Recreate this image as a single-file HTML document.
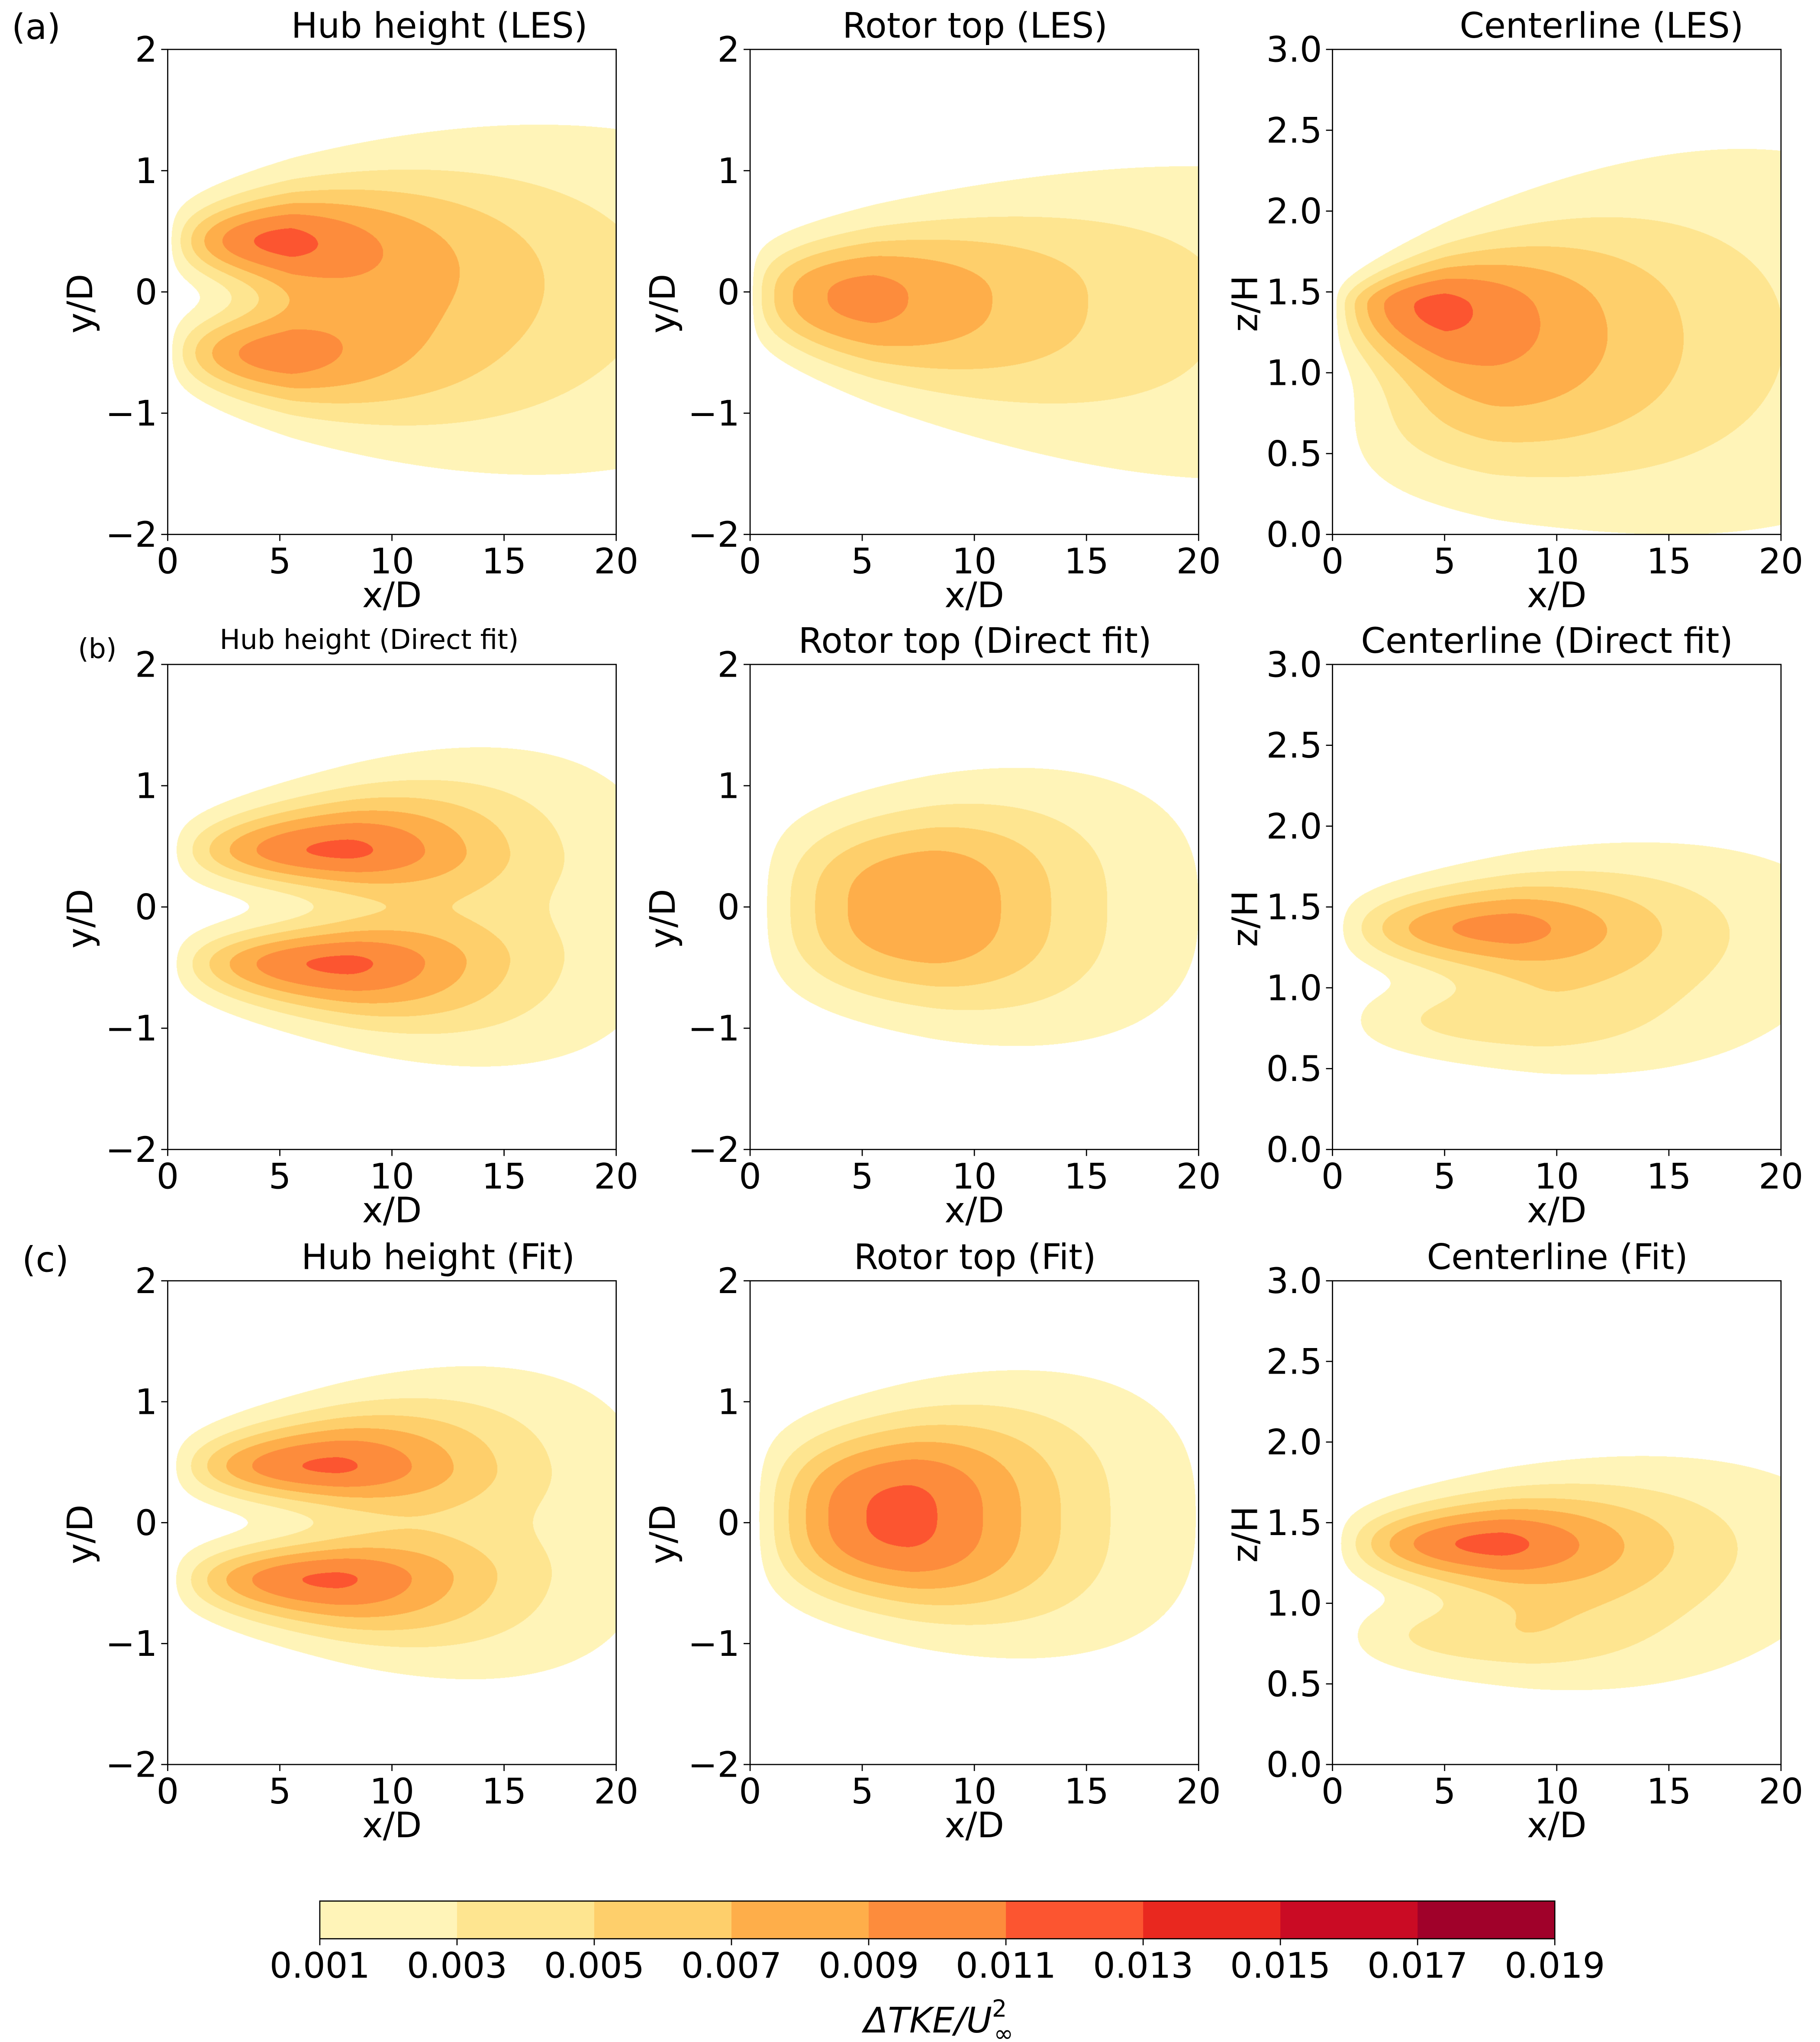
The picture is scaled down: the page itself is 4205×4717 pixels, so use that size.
<!DOCTYPE html>
<html><head><meta charset="utf-8">
<style>
html,body{margin:0;padding:0;background:#fff;}
#wrap{position:relative;width:4205px;height:4717px;overflow:hidden;}
canvas{position:absolute;}
svg{position:absolute;left:0;top:0;}
text{font-family:"DejaVu Sans","Liberation Sans",sans-serif;fill:#000;}
</style></head>
<body>
<div id="wrap">
<svg id="fig" width="4205" height="4717" viewBox="0 0 1400 1570.4" preserveAspectRatio="none"></svg>
</div>
<script>
// ---- data ----
const levels = [0.001,0.003,0.005,0.007,0.009,0.011,0.013,0.015,0.017,0.019];
const levelColors = ['#fff4b8','#fee590','#fecf6b','#feae4a','#fd8c3c','#fc5530','#e9281f','#ca0b24','#a0012a'];
const xTicks = [0,5,10,15,20];
const yTicksHub = [-2,-1,0,1,2];
const yTicksCenter = [0,0.5,1,1.5,2,2.5,3];
// lobe params: [amp, xPeak, kRise, Ltail, pTail, c0, c1, sUp0, sUp1, sDn0, sDn1, q]
const hubLES = [[0.0116,5.5,1.0,10,1.2, 0.42,0, 0.17,0.025,0.17,0.025,2],[0.0102,5.5,1.0,10,1.2,-0.5,-0.003,0.17,0.027,0.17,0.027,2]];
const rotorLES = [[0.0097,5.5,0.8,13.5,1.2,-0.03,-0.003,0.35,0.035,0.35,0.05,2.4]];
const centerLES = [[0.0113,5,1.0,11,1.2,1.42,0,0.08,0.03,0.2,0.03,2],[0.004,7,1.3,9,1.4,0.7,0,0.25,0.015,0.25,0.015,2]];
const hubDirect = [[0.0114,8,1.2,8,1.7,0.47,0,0.15,0.021,0.15,0.013,2],[0.0114,8,1.2,8,1.7,-0.47,0,0.15,0.013,0.15,0.021,2]];
const rotorDirect = [[0.0088,8,1.5,7.6,1.7,0.0,0,0.6,0.026,0.6,0.026,2.65]];
const centerDirect = [[0.0098,8,1.2,8.5,1.5,1.37,0,0.12,0.012,0.12,0.012,2],[0.0042,9,1.3,7,1.6,0.8,0,0.12,0.008,0.12,0.008,2]];
const hubFit = [[0.0113,7.5,1.2,8,1.7,0.47,0,0.15,0.021,0.15,0.013,2],[0.0113,7.5,1.2,8,1.7,-0.47,0,0.15,0.013,0.15,0.021,2]];
const rotorFit = [[0.0116,7,1.3,7.6,1.7,0.05,0,0.58,0.03,0.55,0.03,2.65]];
const centerFit = [[0.0116,7.5,1.2,8.5,1.5,1.37,0,0.12,0.012,0.12,0.012,2],[0.0045,8.5,1.3,7,1.6,0.8,0,0.12,0.008,0.12,0.008,2]];
const titles = [['Hub height (LES)','Rotor top (LES)','Centerline (LES)'],['Hub height (Direct fit)','Rotor top (Direct fit)','Centerline (Direct fit)'],['Hub height (Fit)','Rotor top (Fit)','Centerline (Fit)']];
const fields = [[hubLES,rotorLES,centerLES],[hubDirect,rotorDirect,centerDirect],[hubFit,rotorFit,centerFit]];

// ---- layout ----
const SX = 4205/1400, SY = 4717/1570.4;
const FS = 27;
const colsX = [[129,474],[577,922],[1025,1370]];
const rowsY = [[38,411],[511,884],[985,1357]];
const titleX = [[338,750,1232],[284,750,1190],[337,750,1198]];
const NS = 'http://www.w3.org/2000/svg';
const svg = document.getElementById('fig');
const wrap = document.getElementById('wrap');
function mk(tag, attrs, parent){const e=document.createElementNS(NS,tag);for(const k in attrs)e.setAttribute(k,attrs[k]);(parent||svg).appendChild(e);return e;}

function gx(x,p){
  if(x<=0) return 0;
  const xp=p[1];
  if(x<xp){const r=x/xp;return Math.pow(r,p[2])*Math.exp(p[2]*(1-r));}
  return Math.exp(-Math.pow((x-xp)/p[3],p[4]));
}

function drawField(canvas, lobes, y0v, y1v){
  const W=canvas.width,H=canvas.height;
  const ctx=canvas.getContext('2d');
  const img=ctx.createImageData(W,H);
  const d=img.data;
  const rgb=levelColors.map(c=>[parseInt(c.substr(1,2),16),parseInt(c.substr(3,2),16),parseInt(c.substr(5,2),16)]);
  const n=lobes.length;
  const A=new Float64Array(n),C=new Float64Array(n),SU=new Float64Array(n),SD=new Float64Array(n);
  for(let i=0;i<W;i++){
    const x=20*(i+0.5)/W;
    for(let l=0;l<n;l++){const p=lobes[l];A[l]=p[0]*gx(x,p);C[l]=p[5]+p[6]*x;SU[l]=p[7]+p[8]*x;SD[l]=p[9]+p[10]*x;}
    for(let j=0;j<H;j++){
      const y=y1v-(y1v-y0v)*(j+0.5)/H;
      let v=0;
      for(let l=0;l<n;l++){const dy=y-C[l];const s=dy>0?SU[l]:SD[l];const q=lobes[l][11];
        const t=q===2?(dy*dy)/(2*s*s):Math.pow(Math.abs(dy)/s,q);v+=A[l]*Math.exp(-t);}
      const k=Math.floor((v-levels[0])/(levels[1]-levels[0]));
      if(v>=levels[0]){const c=rgb[Math.min(k,rgb.length-1)];const o=(j*W+i)*4;d[o]=c[0];d[o+1]=c[1];d[o+2]=c[2];d[o+3]=255;}
    }
  }
  ctx.putImageData(img,0,0);
}

for(let r=0;r<3;r++){
  for(let c=0;c<3;c++){
    const [x0,x1]=colsX[c],[y0,y1]=rowsY[r];
    const isC=(c===2);
    const yMin=isC?0:-2,yMax=isC?3:2;
    const ticks=isC?yTicksCenter:yTicksHub;
    const sx=v=>x0+(x1-x0)*v/20;
    const sy=v=>y1-(y1-y0)*(v-yMin)/(yMax-yMin);
    const cv=document.createElement('canvas');
    cv.width=Math.round((x1-x0)*SX);cv.height=Math.round((y1-y0)*SY);
    cv.style.left=(x0*SX)+'px';cv.style.top=(y0*SY)+'px';
    
    
    wrap.insertBefore(cv,svg);
    drawField(cv,fields[r][c],yMin,yMax);
    const g=mk('g',{});
    
    
    const fr=mk('rect',{x:x0,y:y0,width:x1-x0,height:y1-y0,fill:'none',stroke:'#000','stroke-width':0.9},g);
    
    
    xTicks.forEach(t=>{
      const tl=mk('line',{x1:sx(t),x2:sx(t),y1:y1,y2:y1+5,stroke:'#000','stroke-width':0.9},g);
      
      
      const tx=mk('text',{x:sx(t),y:y1+30,'font-size':FS,'text-anchor':'middle'},g);
      tx.textContent=String(t);
      
      
    });
    ticks.forEach(t=>{
      const tl=mk('line',{x1:x0-5,x2:x0,y1:sy(t),y2:sy(t),stroke:'#000','stroke-width':0.9},g);
      
      
      const lab=isC?t.toFixed(1):(t<0?'\u2212'+Math.abs(t):String(t));
      const ty=mk('text',{x:x0-8,y:sy(t)+9.5,'font-size':FS,'text-anchor':'end'},g);
      ty.textContent=lab;
      
      
    });
    const xl=mk('text',{x:(x0+x1)/2,y:y1+56,'font-size':FS,'text-anchor':'middle'},g);
    xl.textContent='x/D';
    
    
    const yc=(y0+y1)/2, yx=x0-58;
    const yl=mk('text',{x:yx,y:yc+9,'font-size':FS,'text-anchor':'middle',transform:'rotate(-90 '+yx+' '+(yc+9)+')'},g);
    yl.textContent=isC?'z/H':'y/D';
    
    
    const small=(r===1&&c===0);
    const tt=mk('text',{x:titleX[r][c],y:y0-(small?12:9),'font-size':small?21:FS,'text-anchor':'middle'},g);
    tt.textContent=titles[r][c];
    
    
  }
}
const pa=mk('text',{x:9,y:30,'font-size':FS});pa.textContent='(a)';


const pb=mk('text',{x:60,y:506,'font-size':21});pb.textContent='(b)';


const pc=mk('text',{x:17,y:978,'font-size':FS});pc.textContent='(c)';



// colorbar
const cbX0=246,cbX1=1196,cbY0=1462,cbY1=1491;
const cb=mk('g',{});


const cw=(cbX1-cbX0)/levelColors.length;
levelColors.forEach((col,i)=>{
  const rr=mk('rect',{x:cbX0+i*cw,y:cbY0,width:cw+0.3,height:cbY1-cbY0,fill:col},cb);
  
  
});
const cf=mk('rect',{x:cbX0,y:cbY0,width:cbX1-cbX0,height:cbY1-cbY0,fill:'none',stroke:'#000','stroke-width':0.9},cb);


levels.forEach((lv,i)=>{
  const x=cbX0+i*(cbX1-cbX0)/(levels.length-1);
  const tl=mk('line',{x1:x,x2:x,y1:cbY1,y2:cbY1+5,stroke:'#000','stroke-width':0.9},cb);
  
  
  const tx=mk('text',{x:x,y:cbY1+30,'font-size':FS,'text-anchor':'middle'},cb);
  tx.textContent=lv.toFixed(3);
  
  
});
const cl=mk('text',{x:722,y:1563,'font-size':FS,'text-anchor':'middle'},cb);


cl.innerHTML='<tspan font-style="italic">\u0394TKE/U</tspan><tspan font-size="18" dy="-12">2</tspan><tspan font-size="18" dx="-10" dy="19">\u221E</tspan>';
</script>
</body></html>
